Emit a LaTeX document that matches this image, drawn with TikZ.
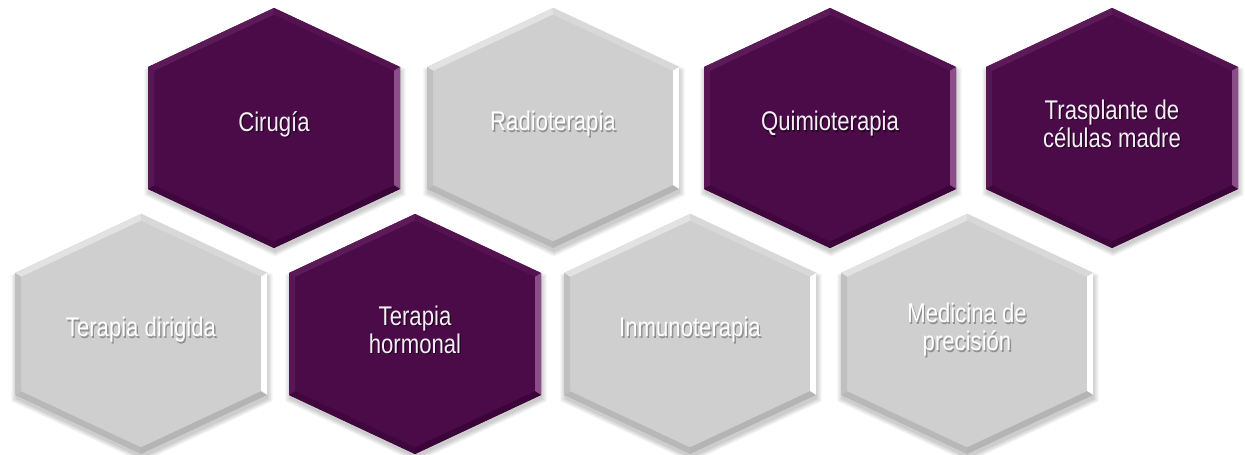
\documentclass[tikz,border=0pt]{standalone}
\usepackage{fontspec}
\setmainfont{Liberation Sans}[FakeStretch=0.82]
\definecolor{hexPbase}{RGB}{75,10,72}
\definecolor{hexPtl}{RGB}{92,26,89}
\definecolor{hexPtr}{RGB}{84,18,81}
\definecolor{hexPr}{RGB}{140,78,136}
\definecolor{hexPbr}{RGB}{60,5,58}
\definecolor{hexPbl}{RGB}{64,7,62}
\definecolor{hexPl}{RGB}{88,22,85}
\definecolor{hexPtxt}{RGB}{244,238,244}
\definecolor{hexGbase}{RGB}{207,207,207}
\definecolor{hexGtl}{RGB}{226,226,226}
\definecolor{hexGtr}{RGB}{216,216,216}
\definecolor{hexGr}{RGB}{255,255,255}
\definecolor{hexGbr}{RGB}{180,180,180}
\definecolor{hexGbl}{RGB}{184,184,184}
\definecolor{hexGl}{RGB}{192,192,192}
\definecolor{hexGtxt}{RGB}{255,255,255}
\tikzset{
  hextext/.style={align=center,inner sep=0pt,font=\fontsize{27}{28}\selectfont},
  txtshadowP/.style={hextext,text=black,opacity=0.55},
  txtshadowG/.style={hextext,text=black!60,opacity=0.6},
  txtP/.style={hextext,text=hexPtxt},
  txtG/.style={hextext,text=hexGtxt},
}
\newcommand\hexpath{(0,-120) -- (126,-61) -- (126,61) -- (0,120) -- (-126,61) -- (-126,-61) -- cycle}
\newcommand\hexcell[5]{%
  \begin{scope}[shift={(#1,#2)}]
    \foreach \s in {1.0,1.012,1.024,1.036}{
      \fill[black,opacity=0.05,shift={(1,4)},scale=\s] \hexpath;
    }
    \fill[hex#3base] \hexpath;
    \fill[hex#3tl] (-126,-61) -- (0,-120) -- (0,-113.4) -- (-120,-57.2) -- cycle;
    \fill[hex#3tr] (0,-120) -- (126,-61) -- (120,-57.2) -- (0,-113.4) -- cycle;
    \fill[hex#3r] (126,-61) -- (126,61) -- (120,57.2) -- (120,-57.2) -- cycle;
    \fill[hex#3br] (126,61) -- (0,120) -- (0,113.4) -- (120,57.2) -- cycle;
    \fill[hex#3bl] (0,120) -- (-126,61) -- (-120,57.2) -- (0,113.4) -- cycle;
    \fill[hex#3l] (-126,61) -- (-126,-61) -- (-120,-57.2) -- (-120,57.2) -- cycle;
    \node[txtshadow#3] (#4s) at (1.3,-2.7) {#5};
    \node[txt#3] (#4) at (0,-4) {#5};
  \end{scope}}
\begin{document}
\begin{tikzpicture}[x=1pt,y=-1pt]
\fill[white] (0,0) rectangle (1245,455);
\useasboundingbox (0,0) rectangle (1245,455);
\hexcell{274}{128}{P}{cir}{Cirugía}
\hexcell{553}{128}{G}{rad}{Radioterapia}
\hexcell{830}{128}{P}{qui}{Quimioterapia}
\hexcell{1112}{128}{P}{tra}{Trasplante de\\células madre}
\hexcell{141}{334}{G}{dir}{Terapia dirigida}
\hexcell{415}{334}{P}{hor}{Terapia\\hormonal}
\hexcell{690}{334}{G}{inm}{Inmunoterapia}
\hexcell{967}{334}{G}{med}{Medicina de\\precisión}
\end{tikzpicture}
\end{document}
